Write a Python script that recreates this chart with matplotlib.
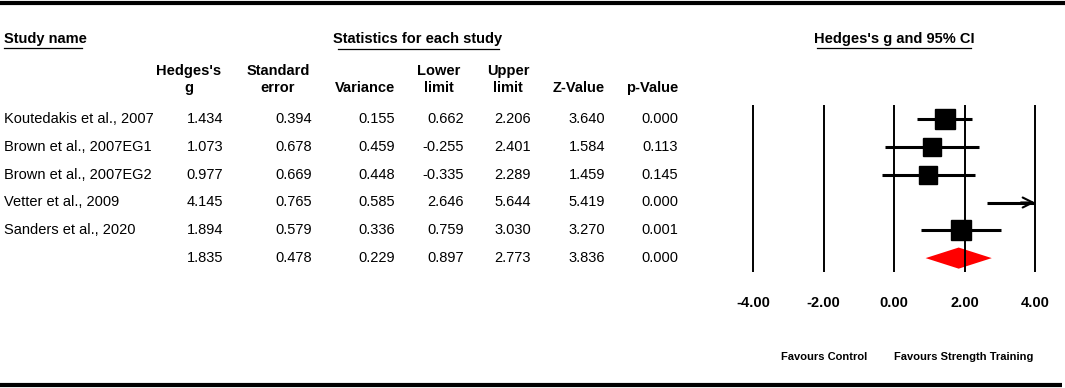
import numpy as np
import matplotlib
matplotlib.use("Agg")
import matplotlib.pyplot as plt

plt.rcParams['font.family'] = ['Liberation Sans', 'DejaVu Sans']

# study level statistics
studies = ["Koutedakis et al., 2007", "Brown et al., 2007EG1", "Brown et al., 2007EG2",
           "Vetter et al., 2009", "Sanders et al., 2020"]
hedges_g = [1.434, 1.073, 0.977, 4.145, 1.894]
std_err = [0.394, 0.678, 0.669, 0.765, 0.579]
variance = [0.155, 0.459, 0.448, 0.585, 0.336]
lower = [0.662, -0.255, -0.335, 2.646, 0.759]
upper = [2.206, 2.401, 2.289, 5.644, 3.030]
z_value = [3.640, 1.584, 1.459, 5.419, 3.270]
p_value = [0.000, 0.113, 0.145, 0.000, 0.001]

# pooled estimate
pooled = dict(g=1.835, se=0.478, var=0.229, lo=0.897, hi=2.773, z=3.836, p=0.000)

xticks = [-4, -2, 0, 2, 4]
xtick_labels = ["-4.00", "-2.00", "0.00", "2.00", "4.00"]

# layout (pixels)
W, H = 1065, 388
row_y0, row_dy = 119, 27.8
col_right = [223, 312, 395, 464, 531, 605, 678]
fs = 10.5

fig = plt.figure(figsize=(W / 100, H / 100), dpi=100)
ax = fig.add_axes([0, 0, 1, 1])
ax.set_xlim(0, W)
ax.set_ylim(H, 0)
ax.axis("off")

# rules
ax.plot([0, W], [3, 3], color="black", lw=3, solid_capstyle="butt")
ax.plot([0, 1062], [385, 385], color="black", lw=3, solid_capstyle="butt")

# section headings
ax.text(4, 39, "Study name", fontsize=fs, fontweight="bold", va="center")
ax.plot([4, 82], [48, 48], color="black", lw=0.9)
ax.text(418, 39, "Statistics for each study", fontsize=fs, fontweight="bold",
        va="center", ha="center")
ax.plot([338, 499], [49, 49], color="black", lw=0.9)
ax.text(894, 39, "Hedges's g and 95% CI", fontsize=fs, fontweight="bold",
        va="center", ha="center")
ax.plot([817, 971], [48, 48], color="black", lw=0.9)

# column headers
hdr = dict(fontsize=fs, fontweight="bold", va="center")
ax.text(189, 71, "Hedges's", ha="center", **hdr)
ax.text(189, 88, "g", ha="center", **hdr)
ax.text(278, 71, "Standard", ha="center", **hdr)
ax.text(278, 88, "error", ha="center", **hdr)
ax.text(col_right[2], 88, "Variance", ha="right", **hdr)
ax.text(439, 71, "Lower", ha="center", **hdr)
ax.text(439, 88, "limit", ha="center", **hdr)
ax.text(508, 71, "Upper", ha="center", **hdr)
ax.text(508, 88, "limit", ha="center", **hdr)
ax.text(col_right[5], 88, "Z-Value", ha="right", **hdr)
ax.text(col_right[6], 88, "p-Value", ha="right", **hdr)

# table body
rows = list(zip(studies, hedges_g, std_err, variance, lower, upper, z_value, p_value))
rows.append(("", pooled["g"], pooled["se"], pooled["var"], pooled["lo"],
             pooled["hi"], pooled["z"], pooled["p"]))
for i, r in enumerate(rows):
    y = row_y0 + i * row_dy
    ax.text(4, y, r[0], fontsize=fs, va="center")
    for x, v in zip(col_right, r[1:]):
        ax.text(x, y, f"{v:.3f}", fontsize=fs, va="center", ha="right")

# forest plot
n = len(rows)
fax = fig.add_axes([753 / W, (H - 272) / H, 282 / W, (n * row_dy) / H])
fax.set_xlim(-4, 4)
fax.set_ylim(n - 0.5, -0.5)
for s in fax.spines.values():
    s.set_visible(False)
fax.vlines(xticks, -0.5, n - 0.5, color="black", lw=1.4, clip_on=False)
fax.set_xticks(xticks)
fax.set_xticklabels(xtick_labels, fontsize=fs, fontweight="bold")
fax.tick_params(axis="x", length=0, pad=17)
fax.set_yticks([])

tau2 = 0.765
xmax = 4
for i in range(len(studies)):
    w = 1.0 / (variance[i] + tau2)
    lo, hi = lower[i], upper[i]
    if hi > xmax:
        fax.plot([lo, xmax - 0.03], [i, i], color="black", lw=2.2, solid_capstyle="butt")
        fax.annotate("", xy=(xmax, i), xytext=(xmax - 0.4, i),
                     arrowprops=dict(arrowstyle="->", lw=1.5, color="black",
                                     mutation_scale=18, shrinkA=0, shrinkB=0),
                     annotation_clip=False)
    else:
        fax.plot([lo, hi], [i, i], color="black", lw=2.2, solid_capstyle="butt")
    if hedges_g[i] <= xmax:
        fax.plot(hedges_g[i], i, marker="s", color="black",
                 markersize=14.5 * np.sqrt(w), linestyle="none")

# pooled diamond
yd = len(studies)
hh = 0.38
fax.fill([pooled["lo"], pooled["g"], pooled["hi"], pooled["g"]],
         [yd, yd - hh, yd, yd + hh], color="#ff0000", lw=0)

# favours labels
ax.text(824, 357, "Favours Control", fontsize=8, fontweight="bold",
        ha="center", va="center")
ax.text(964, 357, "Favours Strength Training", fontsize=8, fontweight="bold",
        ha="center", va="center")

fig.savefig("out.png", dpi=100, facecolor="white")
